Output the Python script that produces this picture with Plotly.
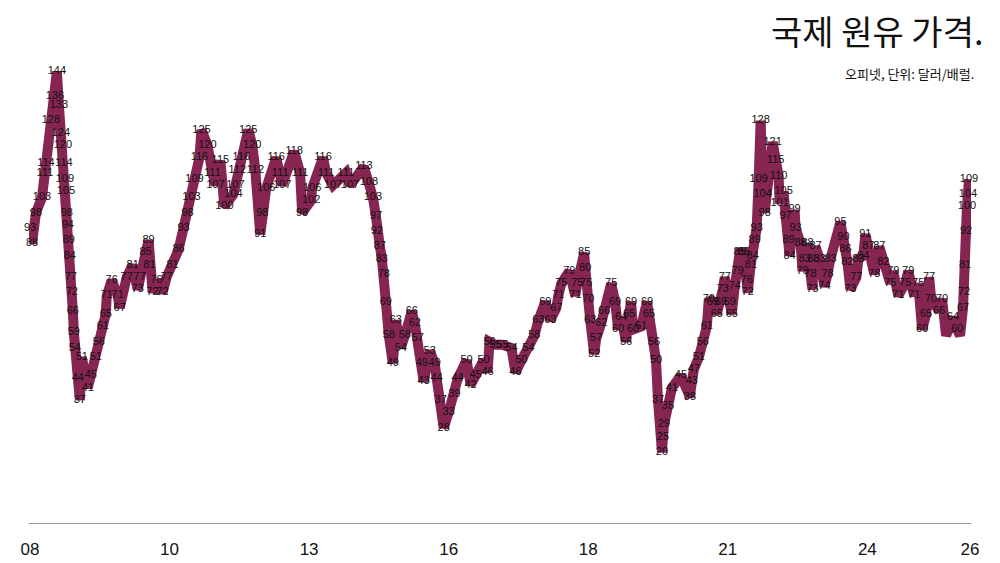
import plotly.graph_objects as go

# Weekly index since Jan 2008 (approx. 1 week per step) and OPEC basket price ($/bbl)
week = [0, 2, 6, 12, 15, 16, 21, 25, 27, 29, 31, 33, 34, 35, 36, 37, 38, 39, 40, 41, 42, 43, 44, 45, 48, 50, 52, 58, 61, 66, 69, 73, 76, 77, 82, 88, 90, 97, 103, 108, 110, 116, 119, 120, 123, 127, 133, 137, 143, 149, 154, 158, 162, 165, 170, 172, 178, 183, 186, 191, 195, 204, 206, 208, 212, 219, 223, 226, 231, 233, 237, 247, 251, 253, 265, 271, 273, 282, 283, 294, 297, 304, 317, 321, 335, 340, 344, 347, 348, 351, 353, 355, 357, 360, 364, 367, 372, 376, 383, 386, 389, 393, 395, 401, 406, 408, 412, 415, 420, 426, 429, 438, 442, 447, 455, 459, 461, 467, 474, 483, 487, 493, 500, 506, 510, 517, 522, 528, 530, 533, 541, 547, 549, 556, 557, 558, 560, 562, 566, 568, 573, 576, 583, 587, 590, 593, 598, 601, 603, 605, 613, 619, 621, 626, 628, 630, 634, 635, 636, 640, 644, 653, 662, 664, 666, 671, 675, 679, 681, 685, 689, 693, 695, 697, 702, 704, 707, 710, 712, 716, 719, 720, 723, 725, 727, 729, 731, 733, 735, 737, 745, 748, 751, 752, 756, 758, 761, 762, 767, 768, 773, 775, 777, 780, 783, 785, 786, 788, 792, 797, 800, 803, 813, 816, 818, 820, 823, 829, 831, 836, 838, 841, 847, 852, 856, 863, 866, 871, 878, 881, 887, 891, 895, 899, 902, 904, 912, 915, 919, 926, 930, 933, 936, 937, 938, 939, 940, 941, 942]
price = [93, 88, 98, 103, 111, 114, 128, 136, 144, 133, 124, 120, 114, 109, 105, 98, 94, 89, 84, 77, 72, 66, 59, 54, 44, 37, 51, 41, 45, 51, 56, 61, 65, 71, 76, 71, 67, 77, 81, 73, 77, 85, 89, 81, 72, 76, 72, 77, 81, 86, 93, 98, 103, 109, 116, 125, 120, 111, 107, 115, 100, 104, 107, 112, 116, 125, 120, 112, 91, 98, 106, 116, 111, 107, 118, 111, 98, 102, 106, 116, 111, 107, 111, 107, 113, 108, 103, 97, 92, 87, 83, 78, 69, 58, 49, 63, 54, 58, 66, 62, 57, 49, 43, 53, 49, 44, 37, 28, 33, 39, 44, 50, 42, 45, 50, 46, 56, 55, 55, 54, 46, 50, 54, 58, 63, 69, 63, 67, 71, 75, 79, 71, 75, 85, 80, 75, 70, 63, 52, 57, 62, 66, 75, 69, 60, 64, 56, 65, 69, 60, 61, 69, 65, 56, 50, 37, 20, 25, 29, 35, 41, 45, 38, 43, 47, 51, 56, 61, 70, 69, 65, 69, 73, 77, 69, 65, 74, 79, 85, 85, 76, 72, 81, 84, 89, 93, 109, 128, 104, 98, 121, 115, 110, 101, 105, 97, 89, 84, 99, 93, 88, 79, 83, 88, 78, 73, 83, 87, 83, 74, 78, 83, 95, 90, 86, 82, 73, 77, 83, 84, 91, 87, 78, 87, 82, 75, 79, 71, 75, 79, 71, 75, 60, 65, 77, 70, 66, 70, 58, 64, 60, 58, 67, 72, 81, 92, 100, 104, 109]
unlabeled_weeks = [919, 933]

tick_weeks = [0, 140, 280, 420, 560, 700, 840, 943]
tick_labels = ["08", "10", "13", "16", "18", "21", "24", "26"]

title_text = "국제 원유 가격."
subtitle_text = "오피넷, 단위: 달러/배럴."

labels = ["" if w in unlabeled_weeks else str(p) for w, p in zip(week, price)]

fig = go.Figure()
fig.add_trace(go.Scatter(
    x=week, y=price, mode="lines+text",
    line=dict(color="#862552", width=10),
    text=labels, textposition="middle center",
    textfont=dict(family="Liberation Sans, Arial, sans-serif", size=11, color="#111111"),
    cliponaxis=False, hoverinfo="skip", showlegend=False,
))

fig.update_layout(
    width=1000, height=563,
    margin=dict(l=29, r=29, t=50, b=40, autoexpand=False),
    paper_bgcolor="white", plot_bgcolor="white",
    xaxis=dict(range=[-1, 944], showgrid=False, zeroline=False, automargin=False,
               showline=True, linecolor="#9a9a9a", linewidth=1,
               tickmode="array", tickvals=tick_weeks, ticktext=tick_labels,
               ticks="", ticklabelstandoff=11,
               tickfont=dict(family="Liberation Sans, Arial, sans-serif", size=17, color="#111111")),
    yaxis=dict(range=[-3, 151], visible=False, automargin=False),
    annotations=[
        dict(text=title_text, xref="paper", yref="paper", x=1, y=1, xshift=14, yshift=20,
             xanchor="right", yanchor="middle", showarrow=False,
             font=dict(family="Noto Sans CJK KR", size=34, color="#111111")),
        dict(text=subtitle_text, xref="paper", yref="paper", x=1, y=1, xshift=5, yshift=-23,
             xanchor="right", yanchor="middle", showarrow=False,
             font=dict(family="Noto Sans CJK KR", size=13, color="#111111")),
    ],
)

fig.write_html("out.html", config={"displayModeBar": False},
               post_script="document.body.style.margin='0';document.body.style.overflow='hidden';")
